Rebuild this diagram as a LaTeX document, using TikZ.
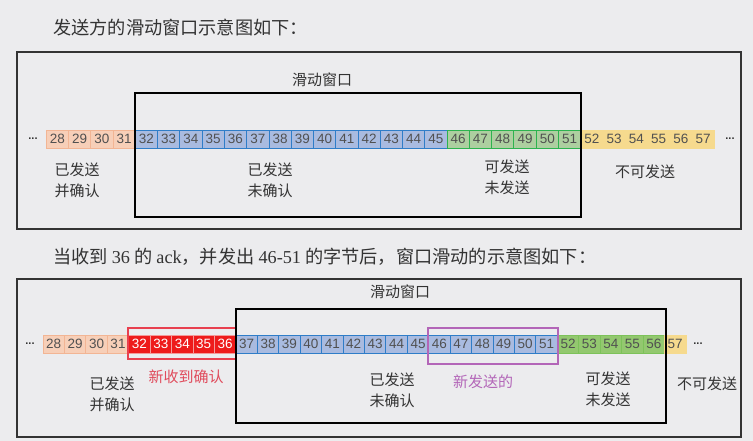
\documentclass[tikz,border=0pt]{standalone}
\usepackage{fontspec}
\setmainfont{Liberation Sans}
\newfontfamily\cjk{Noto Sans CJK SC}
\newfontfamily\ser{Liberation Serif}
\definecolor{bg}{HTML}{ECECEE}
\definecolor{peachF}{HTML}{F7CFB8}
\definecolor{peachD}{HTML}{F2B594}
\definecolor{blueF}{HTML}{A9BBE0}
\definecolor{blueD}{HTML}{2F7DC8}
\definecolor{greenF}{HTML}{ADCFA0}
\definecolor{greenD}{HTML}{2DB34F}
\definecolor{yellowF}{HTML}{F6DA8E}
\definecolor{redF}{HTML}{EE1B1B}
\definecolor{redD}{HTML}{F39A9A}
\definecolor{greenBF}{HTML}{93C86F}
\definecolor{greenBD}{HTML}{7DC25A}
\definecolor{numc}{HTML}{505050}
\definecolor{txt}{HTML}{333333}
\definecolor{purp}{HTML}{B366B8}
\definecolor{redtxt}{HTML}{E04B5C}
\definecolor{redbox}{HTML}{E8404F}
\tikzset{
  cell/.style={minimum height=18pt, inner sep=0pt, line width=0.8pt, font=\fontsize{13.5}{13.5}\selectfont, text=numc},
  tcell/.style={cell, minimum width=22.27pt},
  bcell/.style={cell, minimum width=21.43pt},
  peach/.style={fill=peachF, draw=peachD},
  blu/.style={fill=blueF, draw=blueD},
  grn/.style={fill=greenF, draw=greenD},
  yel/.style={fill=yellowF, draw=yellowF},
  rd/.style={fill=redF, draw=redD, text=white},
  grnB/.style={fill=greenBF, draw=greenBD},
  outer/.style={draw=black!80, line width=1.1pt, inner sep=0pt},
  win/.style={draw=black, line width=1.5pt, inner sep=0pt},
  lbl/.style={font=\cjk\fontsize{15}{21}\selectfont, text=txt, align=center, inner sep=0pt},
  ttl/.style={font=\cjk\fontsize{18.2}{20}\selectfont, text=txt, anchor=west, inner sep=0pt},
  dots/.style={font=\bfseries\fontsize{11}{11}\selectfont, text=txt, inner sep=0pt}
}
\begin{document}
\begin{tikzpicture}[x=1pt,y=-1pt]
\path[use as bounding box, fill=bg] (0,0) rectangle (753,441);
% ---------- top ----------
\node[ttl] (title1) at (53,28) {发送方的滑动窗口示意图如下：};
\node[outer, minimum width=724pt, minimum height=177pt] (touter) at (379,140.5) {};
\foreach \n in {28,...,31} \node[tcell,peach] (t\n) at ({46.2+(\n-28+0.5)*22.27},139) {\n};
\foreach \n in {32,...,45} \node[tcell,blu] (t\n) at ({46.2+(\n-28+0.5)*22.27},139) {\n};
\foreach \n in {46,...,51} \node[tcell,grn] (t\n) at ({46.2+(\n-28+0.5)*22.27},139) {\n};
\foreach \n in {52,...,57} \node[tcell,yel] (t\n) at ({46.2+(\n-28+0.5)*22.27},139) {\n};
\node[win, minimum width=446pt, minimum height=124pt] (twin) at (358,155) {};
\node[lbl] (twinl) at (322,80) {滑动窗口};
\node[dots] (tdl) at (33,139) {...};
\node[dots] (tdr) at (730,139) {...};
\node[lbl] (tl1) at (77,180.5) {已发送\\并确认};
\node[lbl] (tl2) at (270,180.5) {已发送\\未确认};
\node[lbl] (tl3) at (507,177) {可发送\\未发送};
\node[lbl] (tl4) at (645,172) {不可发送};
% ---------- bottom ----------
\node[ttl] (title2) at (53,257) {当收到 {\ser 36} 的 {\ser ack}，并发出 {\ser 46-51} 的字节后，窗口滑动的示意图如下：};
\node[outer, minimum width=724pt, minimum height=158pt] (bouter) at (379,358) {};
\foreach \n in {28,...,31} \node[bcell,peach] (b\n) at ({43+(\n-28+0.5)*21.43},344) {\n};
\foreach \n in {32,...,36} \node[bcell,rd] (b\n) at ({43+(\n-28+0.5)*21.43},344) {\n};
\foreach \n in {37,...,51} \node[bcell,blu] (b\n) at ({43+(\n-28+0.5)*21.43},344) {\n};
\foreach \n in {52,...,56} \node[bcell,grnB] (b\n) at ({43+(\n-28+0.5)*21.43},344) {\n};
\foreach \n in {57} \node[bcell,yel] (b\n) at ({43+(\n-28+0.5)*21.43},344) {\n};
\node[draw=redbox, line width=1.2pt, minimum width=108pt, minimum height=31pt, inner sep=0pt] (rbox) at (182,343.5) {};
\node[draw=purp, line width=1.2pt, minimum width=130pt, minimum height=36pt, inner sep=0pt] (pbox) at (493,346) {};
\node[win, minimum width=430pt, minimum height=114pt] (bwin) at (451,366) {};
\node[lbl] (bwinl) at (400,292) {滑动窗口};
\node[dots] (bdl) at (30,344) {...};
\node[dots] (bdr) at (698,344) {...};
\node[lbl] (bl1) at (112,394.5) {已发送\\并确认};
\node[lbl, text=redtxt] (bl2) at (186,377) {新收到确认};
\node[lbl] (bl3) at (392,390) {已发送\\未确认};
\node[lbl, text=purp] (bl4) at (483,382) {新发送的};
\node[lbl] (bl5) at (608,389) {可发送\\未发送};
\node[lbl] (bl6) at (707,384) {不可发送};
\end{tikzpicture}
\end{document}
